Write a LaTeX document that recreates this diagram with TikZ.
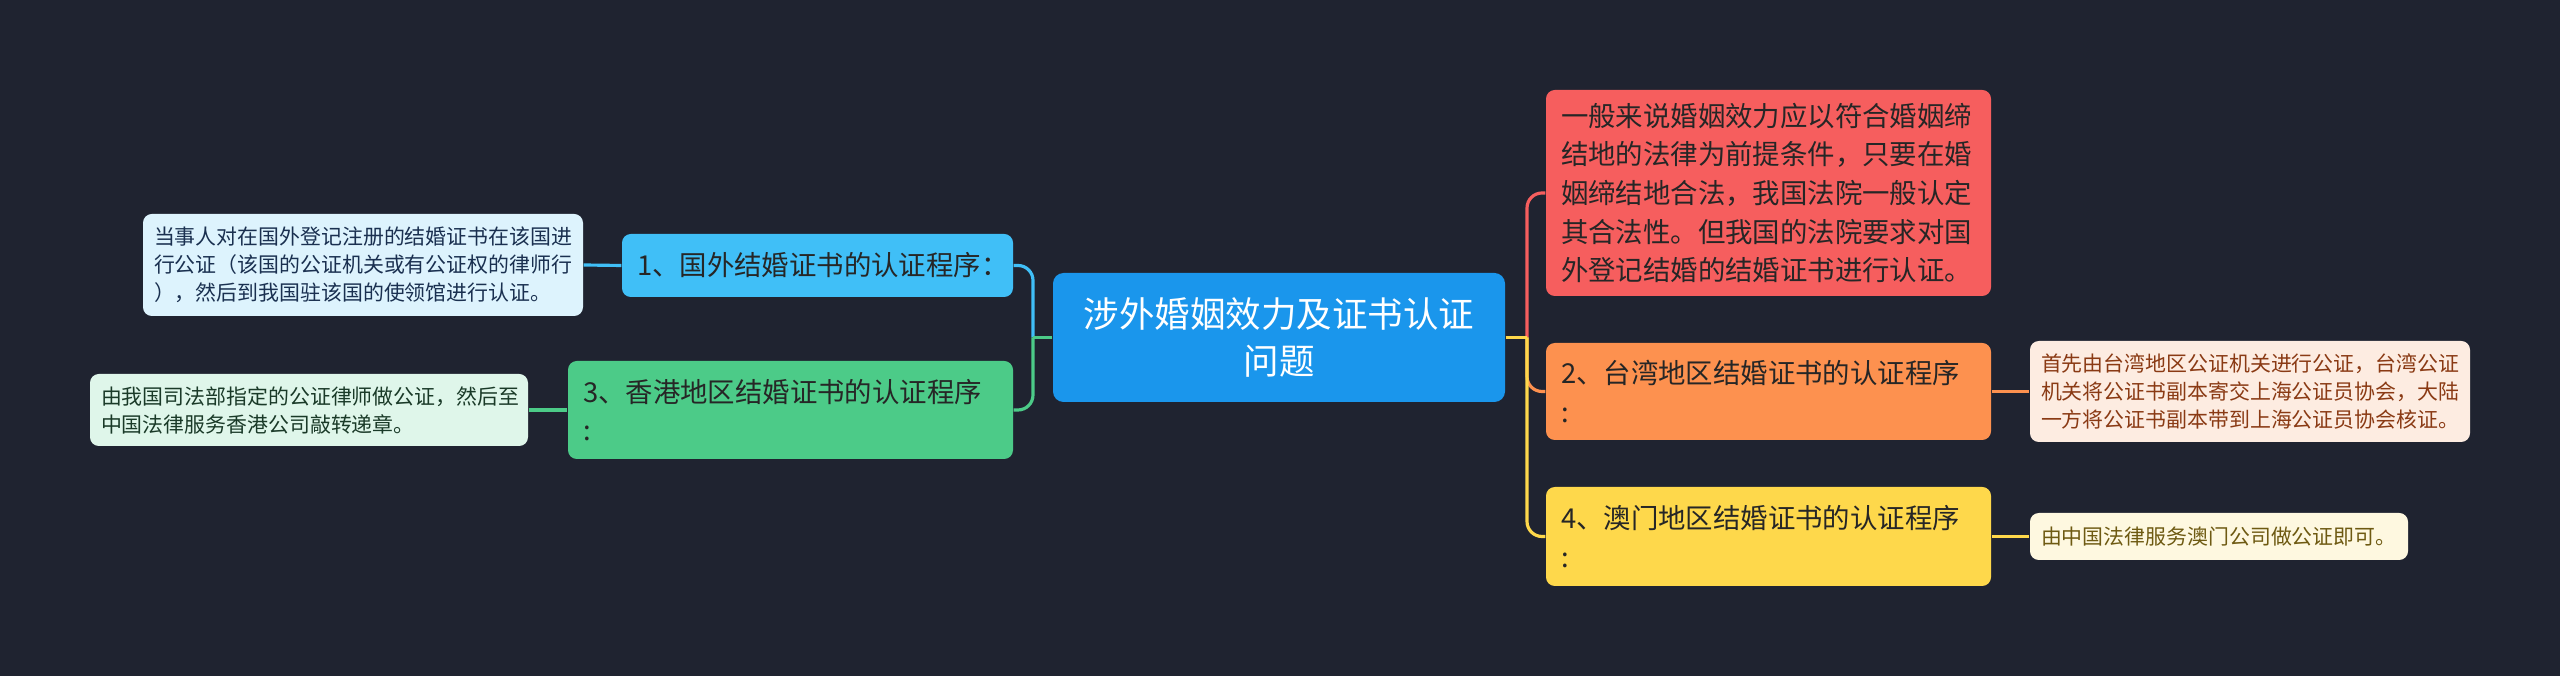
\documentclass[tikz,border=0pt]{standalone}
\usepackage{fontspec}
\setmainfont{Noto Sans CJK SC}
\usetikzlibrary{positioning}

\definecolor{bgnavy}{HTML}{1F2330}
\definecolor{topicblue}{HTML}{1A96EC}
\definecolor{skyblue}{HTML}{40BFF7}
\definecolor{mintgreen}{HTML}{4CCB88}
\definecolor{coralred}{HTML}{F65E5E}
\definecolor{tangerine}{HTML}{FD914F}
\definecolor{sunyellow}{HTML}{FED84B}
\definecolor{textdark}{HTML}{262626}
\definecolor{paleblue}{HTML}{DDF3FD}
\definecolor{palegreen}{HTML}{DFF6EA}
\definecolor{palepeach}{HTML}{FDECE1}
\definecolor{palecream}{HTML}{FEF8E0}
\definecolor{inkblue}{HTML}{1A3050}
\definecolor{inkgreen}{HTML}{1A3A28}
\definecolor{inkbrown}{HTML}{8A3A14}
\definecolor{inkolive}{HTML}{6E5A12}

\tikzset{
  topic/.style={rounded corners=3pt, fill=topicblue, text=white, align=center,
    font=\fontsize{10.1}{13.4}\selectfont, inner sep=0pt},
  midbox/.style={rounded corners=2.5pt, inner xsep=0.15cm, inner ysep=0pt,
    align=left, text=textdark, font=\fontsize{7.8}{11}\selectfont},
  leafbox/.style={rounded corners=2.5pt, inner xsep=0.11cm, inner ysep=0pt,
    align=left, font=\fontsize{5.95}{7.97}\selectfont},
  link/.style={line width=0.9pt, rounded corners=0.15cm},
}

\begin{document}
\begin{tikzpicture}
\fill[bgnavy] (0,0) rectangle (25.6,6.76);
\useasboundingbox (0,0) rectangle (25.6,6.76);

% centre
\node[topic, minimum width=4.52cm, minimum height=1.29cm] (main) at (12.79,3.385)
  {涉外婚姻效力及证书认证\\问题};

% left branches
\node[midbox, fill=skyblue, text width=3.61cm, minimum height=0.63cm] (abroad) at (8.175,4.105)
  {1、国外结婚证书的认证程序：};
\node[midbox, fill=mintgreen, text width=4.15cm, minimum height=0.98cm] (hongkong) at (7.905,2.66)
  {3、香港地区结婚证书的认证程序\\:};
\node[leafbox, fill=paleblue, text=inkblue, text width=4.18cm, minimum height=1.02cm] (abroadnote) at (3.63,4.11)
  {当事人对在国外登记注册的结婚证书在该国进\\行公证（该国的公证机关或有公证权的律师行\\），然后到我国驻该国的使领馆进行认证。};
\node[leafbox, fill=palegreen, text=inkgreen, text width=4.16cm, minimum height=0.72cm] (hongkongnote) at (3.09,2.66)
  {由我国司法部指定的公证律师做公证，然后至\\中国法律服务香港公司敲转递章。};

% right branches
\node[midbox, fill=coralred, text width=4.15cm, minimum height=2.06cm] (general) at (17.685,4.83)
  {一般来说婚姻效力应以符合婚姻缔\\结地的法律为前提条件，只要在婚\\姻缔结地合法，我国法院一般认定\\其合法性。但我国的法院要求对国\\外登记结婚的结婚证书进行认证。};
\node[midbox, fill=tangerine, text width=4.15cm, minimum height=0.97cm] (taiwan) at (17.685,2.845)
  {2、台湾地区结婚证书的认证程序\\:};
\node[midbox, fill=sunyellow, text width=4.15cm, minimum height=0.99cm] (macau) at (17.685,1.395)
  {4、澳门地区结婚证书的认证程序\\:};
\node[leafbox, fill=palepeach, text=inkbrown, text width=4.18cm, minimum height=1.01cm] (taiwannote) at (22.5,2.845)
  {首先由台湾地区公证机关进行公证，台湾公证\\机关将公证书副本寄交上海公证员协会，大陆\\一方将公证书副本带到上海公证员协会核证。};
\node[leafbox, fill=palecream, text=inkolive, text width=3.56cm, minimum height=0.47cm] (macaunote) at (22.19,1.395)
  {由中国法律服务澳门公司做公证即可。};

% connectors
\coordinate (hubL) at (10.33,3.385);
\coordinate (hubR) at (15.27,3.385);
\draw[link, draw=skyblue] (hubL) |- (abroad.east);
\draw[link, draw=mintgreen] (hubL) |- (hongkong.east);
\draw[link, draw=mintgreen] (main.west) -- (hubL);
\draw[link, draw=coralred] (hubR) |- (general.west);
\draw[link, draw=tangerine] (hubR) |- (taiwan.west);
\draw[link, draw=sunyellow] (hubR) |- (macau.west);
\draw[link, draw=sunyellow] (main.east) -- (hubR);
\draw[link, draw=skyblue] (abroadnote.east) -- (abroad.west);
\draw[link, draw=mintgreen] (hongkongnote.east) -- (hongkong.west);
\draw[link, draw=tangerine] (taiwan.east) -- (taiwannote.west);
\draw[link, draw=sunyellow] (macau.east) -- (macaunote.west);
\end{tikzpicture}
\end{document}
